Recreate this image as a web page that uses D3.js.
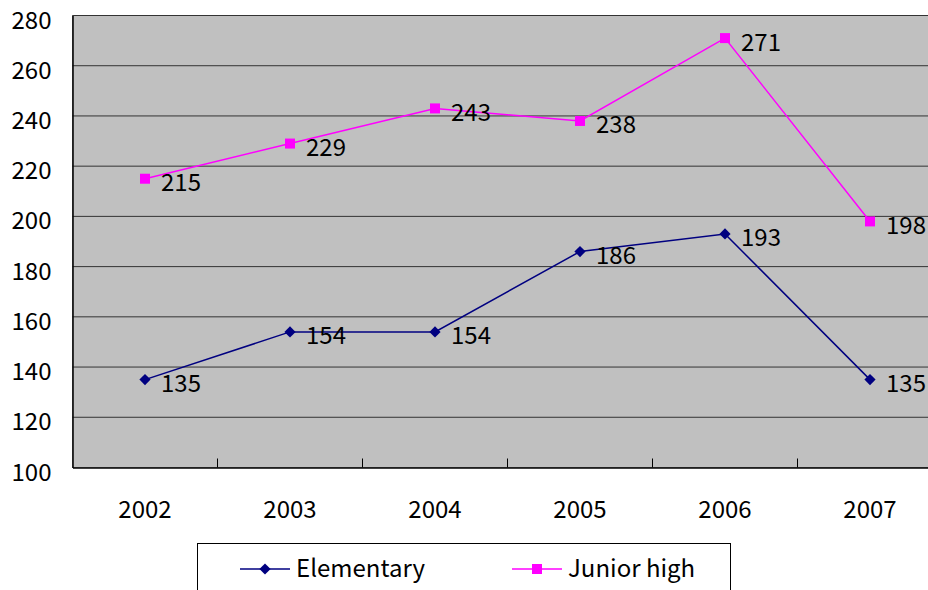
<!DOCTYPE html>
<html>
<head>
<meta charset="utf-8">
<script src="https://cdn.jsdelivr.net/npm/d3@7"></script>
<style>
  html, body { margin: 0; padding: 0; background: #fff; }
  svg { display: block; font-family: "Noto Sans CJK JP", "DejaVu Sans", sans-serif; }
</style>
</head>
<body>
<svg id="chart" width="928" height="590"></svg>
<script>
// Enrollment counts by year, two school levels
const years = ["2002", "2003", "2004", "2005", "2006", "2007"];
const elementary = [135, 154, 154, 186, 193, 135];
const juniorHigh = [215, 229, 243, 238, 271, 198];
const yTicks = [100, 120, 140, 160, 180, 200, 220, 240, 260, 280];
const seriesNames = ["Elementary", "Junior high"];

const FONT = 24;
const svg = d3.select("#chart");
const plot = { left: 72.5, top: 15.5, right: 942.5, bottom: 467.5 };

const x = d3.scaleBand().domain(years).range([plot.left, plot.right]);
const y = d3.scaleLinear().domain([100, 280]).range([plot.bottom, plot.top]);
const cx = d => x(d) + x.bandwidth() / 2;

// plot background
svg.append("rect")
  .attr("x", plot.left).attr("y", plot.top)
  .attr("width", plot.right - plot.left).attr("height", plot.bottom - plot.top)
  .attr("fill", "#c0c0c0")
  .attr("stroke", "#808080").attr("stroke-width", 1);

// horizontal gridlines
svg.append("g").selectAll("line")
  .data(yTicks.filter(t => t > 100))
  .join("line")
  .attr("x1", plot.left).attr("x2", plot.right)
  .attr("y1", d => y(d)).attr("y2", d => y(d))
  .attr("stroke", "#333").attr("stroke-width", 1);

// y axis: labels sit slightly below their gridline
const yAxis = svg.append("g")
  .attr("transform", `translate(${plot.left},0)`)
  .call(d3.axisLeft(y).tickValues(yTicks).tickSize(0).tickPadding(21));
yAxis.select(".domain").attr("stroke", "#000").attr("stroke-width", 1.5);
yAxis.selectAll("text")
  .attr("font-size", FONT).attr("fill", "#000")
  .attr("font-family", "'Noto Sans CJK JP', sans-serif")
  .attr("dy", null).attr("y", 12.5);

// x axis with ticks between categories
const xAxis = svg.append("g")
  .attr("transform", `translate(0,${plot.bottom})`)
  .call(d3.axisBottom(x).tickSize(0));
xAxis.select(".domain").attr("stroke", "#000").attr("stroke-width", 1.5);
xAxis.selectAll("text")
  .attr("font-size", FONT).attr("fill", "#000")
  .attr("font-family", "'Noto Sans CJK JP', sans-serif")
  .attr("dy", null).attr("y", 50);
svg.append("g").selectAll("line")
  .data(years.slice(1))
  .join("line")
  .attr("x1", d => x(d)).attr("x2", d => x(d))
  .attr("y1", plot.bottom).attr("y2", plot.bottom - 9)
  .attr("stroke", "#000").attr("stroke-width", 1);

const line = d3.line().x((d, i) => cx(years[i])).y(d => y(d));
const diamond = d3.symbol().type(d3.symbolDiamond2).size(80);
const square = d3.symbol().type(d3.symbolSquare).size(100);

const series = [
  { name: seriesNames[0], values: elementary, color: "#000080", sym: diamond },
  { name: seriesNames[1], values: juniorHigh, color: "#ff00ff", sym: square }
];

series.forEach(s => {
  svg.append("path").datum(s.values)
    .attr("d", line).attr("fill", "none")
    .attr("stroke", s.color).attr("stroke-width", 1.5);
  svg.append("g").selectAll("path")
    .data(s.values).join("path")
    .attr("d", s.sym)
    .attr("transform", (d, i) => `translate(${cx(years[i])},${y(d)})`)
    .attr("fill", s.color);
  svg.append("g").selectAll("text")
    .data(s.values).join("text")
    .attr("x", (d, i) => cx(years[i]) + 16)
    .attr("y", d => y(d) + 12.5)
    .attr("font-size", FONT).attr("fill", "#000")
    .text(d => d);
});

// legend
const legend = svg.append("g");
legend.append("rect")
  .attr("x", 197.5).attr("y", 543.5).attr("width", 533).attr("height", 60)
  .attr("fill", "#fff").attr("stroke", "#000").attr("stroke-width", 1);
const legendX = [240, 512];
series.forEach((s, i) => {
  const lx = legendX[i];
  legend.append("line")
    .attr("x1", lx).attr("x2", lx + 50).attr("y1", 569).attr("y2", 569)
    .attr("stroke", s.color).attr("stroke-width", 1.5);
  legend.append("path").attr("d", s.sym)
    .attr("transform", `translate(${lx + 25},569)`).attr("fill", s.color);
  legend.append("text")
    .attr("x", lx + 56).attr("y", 577)
    .attr("font-size", FONT).attr("fill", "#000")
    .text(s.name);
});
</script>
</body>
</html>
